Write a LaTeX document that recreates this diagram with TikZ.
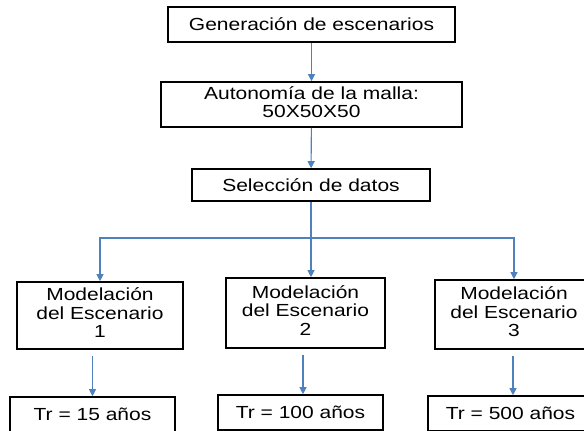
\documentclass[tikz,border=0pt]{standalone}
\usepackage{fontspec}
\setmainfont{Liberation Sans}[FakeStretch=1.2]
\newfontfamily\boxfont{Liberation Sans}[FakeStretch=1.2]
\usetikzlibrary{arrows.meta}
\definecolor{linkblue}{RGB}{79,129,189}
\newcommand{\lines}[1]{\begin{tabular}{@{}c@{}}#1\end{tabular}}
\tikzset{
  box/.style={draw=black, line width=1.6pt, fill=white, inner sep=0pt,
    font=\boxfont\fontsize{17.5}{18.3}\selectfont},
  link/.style={draw=linkblue, line width=1.1pt},
  arr/.style={link, -{Triangle[width=7pt,length=7pt]}}
}
\begin{document}
\begin{tikzpicture}[x=1pt,y=-1pt]
\useasboundingbox (0,0) rectangle (584,431);
\clip (0,0) rectangle (584,431);
\fill[white] (0,0) rectangle (584,431);
\node[box, minimum width=287pt, minimum height=35pt] (b1) at (311.5,24.5) {Generación de escenarios};
\node[box, minimum width=301pt, minimum height=45pt] (b2) at (311.5,104.5) {\lines{Autonomía de la malla:\\50X50X50}};
\node[box, minimum width=238pt, minimum height=32pt] (b3) at (311,185) {Selección de datos};
\node[box, minimum width=166pt, minimum height=67pt] (b4) at (100,315.5) {\lines{Modelación\\del Escenario\\1}};
\node[box, minimum width=159pt, minimum height=70pt] (b5) at (305.5,313) {\lines{Modelación\\del Escenario\\2}};
\node[box, minimum width=158pt, minimum height=69pt] (b6) at (514,314.5) {\lines{Modelación\\del Escenario\\3}};
\node[box, minimum width=165pt, minimum height=35pt] (t1) at (92.5,414.5) {Tr = 15 años};
\node[box, minimum width=165pt, minimum height=35pt] (t2) at (300.5,412.5) {Tr = 100 años};
\node[box, minimum width=165pt, minimum height=35pt] (t3) at (510.5,413.5) {Tr = 500 años};
\coordinate (j) at (311,238);
\draw[arr] (b1) -- (b2);
\draw[arr] (b2) -- (b3);
\draw[link] (b3) -- (j);
\draw[arr] (j) -| (b4.north);
\draw[arr] (j) -| (b6.north);
\draw[arr] (j) -- (b5.north -| j);
\draw[arr, shorten <=6pt] (b4.south -| t1.north) -- (t1.north);
\draw[arr, shorten <=6pt] (b5.south -| t2.north) ++(2.5,0) -- ([xshift=2.5pt]t2.north);
\draw[arr, shorten <=6pt] (b6.south -| t3.north) ++(2.5,0) -- ([xshift=2.5pt]t3.north);
\end{tikzpicture}
\end{document}
